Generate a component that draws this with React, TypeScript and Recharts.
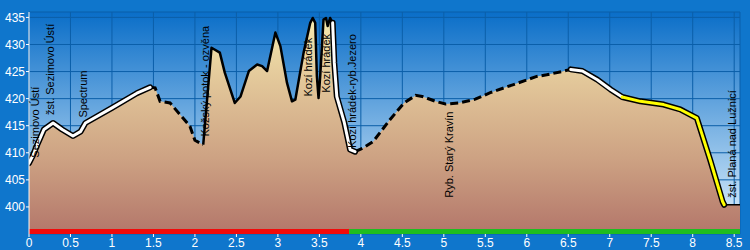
import {
  ComposedChart,
  Area,
  Line,
  XAxis,
  YAxis,
  CartesianGrid,
  ReferenceArea,
  ReferenceDot,
} from "recharts";

// distance along the route (km) and elevation (m)
const dist = [
  0, 0.05, 0.1, 0.18, 0.29, 0.4, 0.53, 0.62, 0.68, 1.0, 1.3, 1.46, 1.52, 1.58,
  1.7, 1.84, 1.94, 2.0, 2.06, 2.1, 2.2, 2.3, 2.36, 2.48, 2.55, 2.65, 2.75, 2.81,
  2.87, 2.97, 3.03, 3.11, 3.17, 3.21, 3.31, 3.39, 3.42, 3.45, 3.47, 3.49, 3.51,
  3.55, 3.58, 3.6, 3.63, 3.66, 3.68, 3.71, 3.8, 3.87, 3.93, 4.03, 4.15, 4.35,
  4.52, 4.66, 4.74, 4.9, 5.02, 5.18, 5.38, 5.56, 5.84, 6.12, 6.24, 6.45, 6.53,
  6.67, 6.85, 7.01, 7.15, 7.37, 7.65, 7.85, 8.05, 8.21, 8.36, 8.38, 8.57,
];
const elev = [
  408.1, 409.6, 411.5, 414.3, 415.5, 414.3, 413.1, 413.9, 415.5, 418.3, 421.0,
  422.1, 422.0, 419.5, 419.2, 416.7, 414.9, 412.3, 411.8, 411.5, 429.4, 428.5,
  424.8, 419.2, 420.4, 425.1, 426.3, 426.0, 425.1, 432.2, 429.7, 422.9, 419.5,
  419.8, 428.5, 434.0, 434.9, 434.0, 424.1, 420.1, 424.1, 434.6, 434.9, 433.4,
  434.9, 434.0, 426.6, 420.4, 415.6, 410.6, 410.2, 410.9, 412.1, 416.1, 419.2,
  420.6, 420.4, 419.5, 419.0, 419.2, 419.9, 421.1, 422.6, 424.1, 424.4, 425.1,
  425.4, 425.1, 423.5, 421.7, 420.3, 419.5, 418.9, 418.0, 416.4, 408.7, 401.0,
  400.4, 400.4,
];

// route surface segments
const segments = [
  { key: "white1", from: 0, to: 1.46 },
  { key: "dashed", from: 1.46, to: 2.1 },
  { key: "black", from: 2.1, to: 3.66 },
  { key: "white2", from: 3.66, to: 3.93 },
  { key: "dashed", from: 3.93, to: 6.53 },
  { key: "white3", from: 6.53, to: 7.15 },
  { key: "yellow", from: 7.15, to: 8.38 },
  { key: "flat", from: 8.38, to: 8.57 },
];
const outlined = ["white1", "white2", "white3", "yellow"];

// place names (distance, elevation of text start)
const placeNames = ["Sezimovo Ústí", "žst. Sezimovo Ústí", "Spectrum", "Kožský potok - ozvěna", "Kozí hrádek", "Kozí hrádek", "Kozí hrádek-ryb.Jezero", "Ryb. Starý Kravín", "žst. Planá nad Lužnicí"];
const placeDist = [0.08, 0.25, 0.65, 2.12, 3.36, 3.58, 3.89, 5.06, 8.47];
const placeElev = [409.1, 417.0, 416.5, 413.0, 420.4, 421.1, 410.9, 401.7, 401.7];

// red / green bar below the profile
const barSplit = 3.86;

const xTicks = [0, 0.5, 1, 1.5, 2, 2.5, 3, 3.5, 4, 4.5, 5, 5.5, 6, 6.5, 7, 7.5, 8, 8.5];
const yTicks = [400, 405, 410, 415, 420, 425, 430, 435];

const FONT = "'Liberation Sans', Arial, sans-serif";

const data = dist.map((d, i) => {
  const row: any = { d, elev: elev[i] };
  segments.forEach((s) => {
    if (d >= s.from - 1e-9 && d <= s.to + 1e-9) {
      row[s.key] = elev[i];
      if (outlined.includes(s.key)) row.outline = elev[i];
    }
  });
  return row;
});

const PlaceLabel = (name: string) => (p: any) => (
  <text
    x={p.cx}
    y={p.cy}
    dy="0.35em"
    transform={`rotate(-90, ${p.cx}, ${p.cy})`}
    fontSize={11}
    fontFamily={FONT}
    fill="#000"
  >
    {name}
  </text>
);

export default function App() {
  return (
    <div style={{ position: "absolute", left: 0, top: 0, width: 750, height: 250, background: "#0f76cc" }}>
      <ComposedChart
        width={750}
        height={250}
        data={data}
        margin={{ top: 12, right: 10, left: 0, bottom: 0 }}
      >
        <defs>
          <linearGradient id="sky" x1="0" y1="0" x2="0" y2="1">
            <stop offset="0%" stopColor="#0a6ec8" />
            <stop offset="100%" stopColor="#e2f2fd" />
          </linearGradient>
          <linearGradient id="ground" x1="0" y1="0" x2="0" y2="1">
            <stop offset="0%" stopColor="#f6eaae" />
            <stop offset="30%" stopColor="#e2c699" />
            <stop offset="65%" stopColor="#cda283" />
            <stop offset="100%" stopColor="#b3766a" />
          </linearGradient>
        </defs>
        <CartesianGrid fill="url(#sky)" stroke="#0b5fa9" strokeWidth={1} />
        <XAxis
          dataKey="d"
          type="number"
          domain={[0, 8.57]}
          ticks={xTicks}
          allowDataOverflow
          height={16}
          axisLine={false}
          tickSize={3}
          tickMargin={1}
          tickLine={{ stroke: "#fff" }}
          tick={{ fill: "#fff", fontSize: 12, fontFamily: FONT }}
          interval={0}
        />
        <YAxis
          type="number"
          domain={[395, 436]}
          ticks={yTicks}
          allowDataOverflow
          width={29}
          axisLine={{ stroke: "#fff" }}
          tickSize={3}
          tickMargin={1}
          tickLine={{ stroke: "#fff" }}
          tick={{ fill: "#fff", fontSize: 12, fontFamily: FONT }}
          interval={0}
        />
        <Area
          type="linear"
          dataKey="elev"
          fill="url(#ground)"
          fillOpacity={1}
          stroke="none"
          isAnimationActive={false}
          dot={false}
          activeDot={false}
        />
        <Line type="linear" dataKey="outline" stroke="#000" strokeWidth={6} strokeLinejoin="round" strokeLinecap="round" dot={false} activeDot={false} isAnimationActive={false} />
        <Line type="linear" dataKey="black" stroke="#000" strokeWidth={2.5} strokeLinejoin="round" dot={false} activeDot={false} isAnimationActive={false} />
        <Line type="linear" dataKey="dashed" stroke="#000" strokeWidth={3} strokeDasharray="8 4" dot={false} activeDot={false} isAnimationActive={false} />
        <Line type="linear" dataKey="flat" stroke="#000" strokeWidth={1.5} dot={false} activeDot={false} isAnimationActive={false} />
        <Line type="linear" dataKey="white1" stroke="#fff" strokeWidth={3} strokeLinejoin="round" strokeLinecap="round" dot={false} activeDot={false} isAnimationActive={false} />
        <Line type="linear" dataKey="white2" stroke="#fff" strokeWidth={3} strokeLinejoin="round" strokeLinecap="round" dot={false} activeDot={false} isAnimationActive={false} />
        <Line type="linear" dataKey="white3" stroke="#fff" strokeWidth={3} strokeLinejoin="round" strokeLinecap="round" dot={false} activeDot={false} isAnimationActive={false} />
        <Line type="linear" dataKey="yellow" stroke="#ffff00" strokeWidth={3} strokeLinejoin="round" strokeLinecap="round" dot={false} activeDot={false} isAnimationActive={false} />
        <ReferenceArea x1={0} x2={barSplit} y1={395} y2={395.92} fill="#f20a0a" fillOpacity={1} stroke="none" ifOverflow="visible" />
        <ReferenceArea x1={barSplit} x2={8.57} y1={395} y2={395.92} fill="#1fbd1f" fillOpacity={1} stroke="none" ifOverflow="visible" />
        {placeNames.map((name, i) => (
          <ReferenceDot
            key={i}
            x={placeDist[i]}
            y={placeElev[i]}
            r={0}
            shape={PlaceLabel(name)}
          />
        ))}
      </ComposedChart>
    </div>
  );
}
